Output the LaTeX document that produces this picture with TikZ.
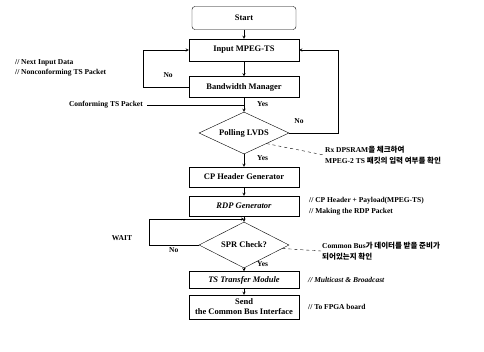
\documentclass[tikz,border=0pt]{standalone}
\usepackage{fontspec}
\setmainfont{Liberation Serif}
\newfontfamily\krfont{Noto Sans CJK KR}
\usetikzlibrary{shapes.geometric, arrows, calc}
\tikzstyle{beginend} = [rectangle, rounded corners=3pt, minimum width=104pt, minimum height=23pt, text centered, draw=black, fill=white]
\tikzstyle{process} = [rectangle, minimum width=110pt, minimum height=20pt, inner sep=2pt, text centered, draw=black, fill=white]
\tikzstyle{decision} = [diamond, aspect=2, minimum width=90pt, minimum height=42pt, inner sep=1pt, text centered, draw=black, fill=white]
\tikzstyle{note} = [font=\fontsize{7.5}{10.5}\selectfont\bfseries, align=left, inner sep=1pt]
\tikzstyle{arrow} = [thin,->,>=stealth]
\tikzstyle{link} = [thin]

\begin{document}
\begin{tikzpicture}[node distance=32pt, font=\fontsize{8.5}{10}\selectfont\bfseries]
	\useasboundingbox (0,0) rectangle (484pt,-351pt);
	\node (start) [beginend] at (244pt,-18pt) {Start};
	\node (input) [process, below of=start, minimum height=22pt] {Input MPEG-TS};
	\node (bw) [process, below of=input, node distance=37pt, minimum height=21pt] {Bandwidth Manager};
	\node (poll) [decision, below of=bw, node distance=46pt] {Polling LVDS};
	\node (cp) [process, below of=poll, node distance=44pt] {CP Header Generator};
	\node (rdp) [process, below of=cp, node distance=29pt] {\itshape RDP Generator};
	\node (spr) [decision, below of=rdp, node distance=39pt, minimum height=46pt] {SPR Check?};
	\node (ts) [process, below of=spr, node distance=35pt, minimum height=17pt] {\itshape TS Transfer Module};
	\node (send) [process, below of=ts, node distance=27pt, minimum height=24pt, align=center] {Send\\the Common Bus Interface};

	% side notes
	\node (nextin) [note, anchor=west] at (14pt,-68pt) {// Next Input Data\\// Nonconforming TS Packet};
	\node (conf) [note, anchor=east, inner sep=4pt] at (147pt,-105pt) {Conforming TS Packet};
	\node (rxnote) [note, anchor=west] at (324pt,-155pt) {Rx DPSRAM{\krfont 을 체크하여}\\MPEG-2 TS {\krfont 패킷의 입력 여부를 확인}};
	\node (payload) [note, anchor=west] at (308pt,-206pt) {// CP Header + Payload(MPEG-TS)\\// Making the RDP Packet};
	\node (wait) [note] at (122pt,-238pt) {WAIT};
	\node (busnote) [note, anchor=west] at (321pt,-251pt) {Common Bus{\krfont 가 데이터를 받을 준비가}\\{\krfont 되어있는지 확인}};
	\node (cast) [note, anchor=west] at (307pt,-280pt) {\itshape // Multicast \& Broadcast};
	\node (fpga) [note, anchor=west] at (307pt,-307pt) {// To FPGA board};

	\draw [arrow] (start) -- (input);
	\draw [arrow] (input) -- (bw);
	\draw [arrow] (bw) -- node[note, pos=0.45, right=12pt] {Yes} (poll);
	\draw [arrow] (poll) -- node[note, pos=0.3, right=12pt] {Yes} (cp);
	\draw [arrow] (cp) -- (rdp);
	\draw [arrow] (rdp) -- (spr);
	\draw [arrow] (spr) -- node[note, pos=0, right=12pt, yshift=4pt] {Yes} (ts);
	\draw [arrow] (ts) -- (send);
	\draw [link] (conf) -- (conf -| bw);
	\draw [arrow] (bw.west) -- node[note, pos=0.45, above=8pt] {No} ++(-46pt,0) |- (input.west);
	\draw [arrow] (poll.east) -- node[note, pos=0.2, above=8pt] {No} ++(49pt,0) |- (input.east);
	\draw [arrow] (spr.west) -- node[note, pos=0.5, below=1pt] {No} ++(-50pt,0) |- ($(rdp.south)!0.5!(spr.north)$);
	\draw [link, dashed] (poll.south east) -- (rxnote.west);
	\draw [link, dashed] ($(spr.east)!0.15!(spr.south)$) -- (busnote.west);
\end{tikzpicture}
\end{document}
